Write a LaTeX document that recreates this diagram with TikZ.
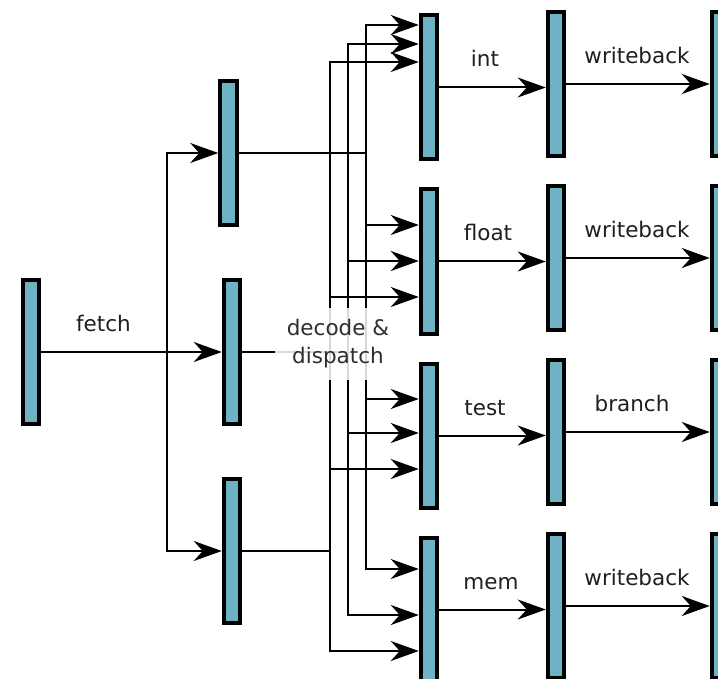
\documentclass[tikz,border=0pt]{standalone}
\usepackage{fontspec}
\setmainfont{DejaVu Sans}
\usetikzlibrary{arrows.meta}
\definecolor{regblue}{RGB}{110,178,198}
\begin{document}
\begin{tikzpicture}[x=1pt,y=-1pt,
  reg/.style={rectangle, draw=black, fill=regblue, line width=4pt, minimum width=16.5pt, minimum height=144pt, inner sep=0pt},
  conn/.style={line width=2pt, draw=black},
  arr/.style={conn, -{Stealth[length=28pt,width=20pt,inset=9pt]}},
  lbl/.style={font=\fontsize{21.5}{28}\selectfont, anchor=base, inner sep=0pt, text=black!88}
]
\useasboundingbox (0,0) rectangle (718,679);
% registers
\node[reg] (r0) at (31,352) {};
\node[reg] (d1) at (228.5,153) {};
\node[reg] (d2) at (232,352) {};
\node[reg] (d3) at (232,551) {};
\node[reg] (e1) at (429,87.5) {};
\node[reg] (e2) at (429,261.5) {};
\node[reg] (e3) at (429,435.5) {};
\node[reg] (e4) at (429,609.5) {};
\node[reg] (w1) at (556,84) {};
\node[reg] (w2) at (556,258) {};
\node[reg] (w3) at (556,432) {};
\node[reg] (w4) at (556,606) {};
\node[reg] (c1) at (720,84) {};
\node[reg] (c2) at (720,258) {};
\node[reg] (c3) at (720,432) {};
\node[reg] (c4) at (720,606) {};
% fetch
\coordinate (fork) at (166.7,352);
\draw[arr] (r0.east) -- (d2.west);
\draw[arr] (fork) |- (d1.west);
\draw[arr] (fork) |- (d3.west);
% dispatch buses
\coordinate (ba) at (366,153);
\coordinate (bb) at (348,352);
\coordinate (bc) at (330,551);
\draw[conn] (d1.east) -- (ba);
\draw[conn] (d2.east) -- (bb);
\draw[conn] (d3.east) -- (bc);
\draw[arr] (ba) |- (e1.west |- 0,25);
\draw[arr] (ba) |- (e2.west |- 0,225);
\draw[arr] (ba) |- (e3.west |- 0,399);
\draw[arr] (ba) |- (e4.west |- 0,569);
\draw[arr] (bb) |- (e1.west |- 0,44);
\draw[arr] (bb) |- (e2.west |- 0,261);
\draw[arr] (bb) |- (e3.west |- 0,433);
\draw[arr] (bb) |- (e4.west |- 0,615);
\draw[arr] (bc) |- (e1.west |- 0,62);
\draw[arr] (bc) |- (e2.west |- 0,297);
\draw[arr] (bc) |- (e3.west |- 0,469);
\draw[arr] (bc) |- (e4.west |- 0,651);
% execute and writeback
\foreach \i in {1,2,3,4}{
  \draw[arr] (e\i.east) -- (w\i.west |- e\i.east);
  \draw[arr] (w\i.east) -- (c\i.west |- w\i.east);
}
% labels
\node[lbl] (lfetch) at (103.5,331) {fetch};
\node[lbl] (lint) at (485,67) {int};
\node[lbl] (lfloat) at (488,241) {float};
\node[lbl] (ltest) at (485,415) {test};
\node[lbl] (lmem) at (491,589) {mem};
\node[lbl] (lwb1) at (637,63.5) {writeback};
\node[lbl] (lwb2) at (637,237.5) {writeback};
\node[lbl] (lbr) at (632,411.5) {branch};
\node[lbl] (lwb4) at (637,585.5) {writeback};
\node[font=\fontsize{21.5}{28}\selectfont, align=center, fill=white, fill opacity=0.85, text opacity=1, text=black!82, inner xsep=12pt, inner ysep=12pt] (ldec) at (338,344) {decode \&\\dispatch};
\end{tikzpicture}
\end{document}
